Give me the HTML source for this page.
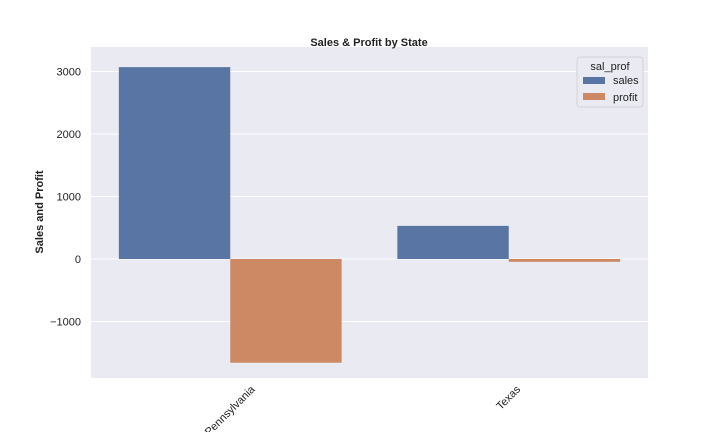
<!DOCTYPE html>
<html><head><meta charset="utf-8"><style>
body{margin:0;background:#fff;}
svg{display:block;font-family:"Liberation Sans","DejaVu Sans",sans-serif;}
</style></head><body>
<svg id="chart" width="720" height="432">
<rect x="91" y="47" width="557" height="331" fill="#eaeaf2"/>
<g id="grid"></g><g id="bars"></g><g id="axes"></g>
<text x="369" y="46" text-anchor="middle" font-size="11" font-weight="bold" fill="#222">Sales &amp; Profit by State</text>
<text transform="translate(43,212) rotate(-90)" text-anchor="middle" font-size="11" font-weight="bold" fill="#222">Sales and Profit</text>
<g>
<rect x="577" y="57" width="66" height="50" rx="3" fill="#eaeaf2" stroke="#cccccc" stroke-width="0.8"/>
<text x="610" y="70" text-anchor="middle" font-size="11" fill="#222">sal_prof</text>
<rect x="583" y="77" width="22" height="7" fill="#5975a4"/>
<text x="613" y="84" font-size="11" fill="#222">sales</text>
<rect x="583" y="93" width="22" height="7" fill="#cc8963"/>
<text x="613" y="101" font-size="11" fill="#222">profit</text>
</g>
</svg>
<script>
const categories = ["Pennsylvania", "Texas"];
const salesValues = [3070, 530];
const profitValues = [-1660, -45];
const yTicks = [-1000, 0, 1000, 2000, 3000];
const yTickLabels = ["\u22121000", "0", "1000", "2000", "3000"];

const NS = "http://www.w3.org/2000/svg";
const px0 = 91, px1 = 648, py0 = 47, py1 = 378;
const ymin = -1904, ymax = 3392;
const y = v => py1 - (v - ymin) / (ymax - ymin) * (py1 - py0);
const band = (px1 - px0) / categories.length;
const xc = i => px0 + band * (i + 0.5);
const barW = band * 0.4;
function mk(tag, attrs, parent) { const e = document.createElementNS(NS, tag); for (const k in attrs) e.setAttribute(k, attrs[k]); parent.appendChild(e); return e; }
const grid = document.getElementById('grid'), bars = document.getElementById('bars'), axes = document.getElementById('axes');
yTicks.forEach((t, i) => {
  const l = mk('line', {x1: px0, x2: px1, y1: y(t), y2: y(t), stroke: '#fff', 'stroke-width': 1}, grid);
  
  
  const tx = mk('text', {x: px0 - 10, y: y(t) + 4, 'text-anchor': 'end', 'font-size': 11, fill: '#222'}, axes);
  tx.textContent = yTickLabels[i];
  
  
});
categories.forEach((c, i) => {
  const s = salesValues[i], p = profitValues[i];
  const b1 = mk('rect', {x: xc(i) - barW, width: barW, y: Math.min(y(s), y(0)), height: Math.abs(y(s) - y(0)), fill: '#5975a4'}, bars);
  
  
  const b2 = mk('rect', {x: xc(i), width: barW, y: Math.min(y(p), y(0)), height: Math.abs(y(p) - y(0)), fill: '#cc8963'}, bars);
  
  
  const t = mk('text', {'text-anchor': 'middle', 'dominant-baseline': 'central', 'font-size': 11, fill: '#222'}, axes);
  t.textContent = c;
  
  
  const len = t.getComputedTextLength();
  const half = (len + 11) * 0.7071 / 2;
  const cy = 384 + half;
  t.setAttribute('x', xc(i)); t.setAttribute('y', cy);
  t.setAttribute('transform', `rotate(-45 ${xc(i)} ${cy})`);
});
</script>
</body></html>
